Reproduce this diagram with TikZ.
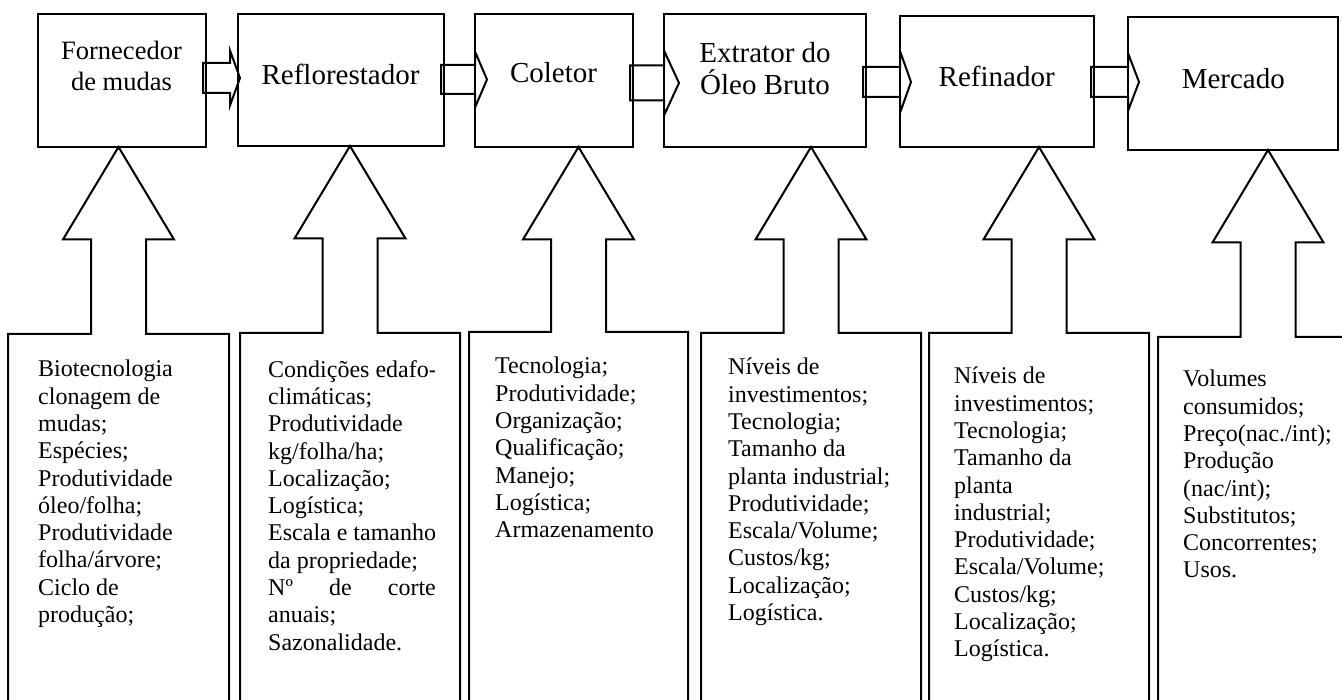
\documentclass[tikz,border=0pt]{standalone}
\usepackage{fontspec}
\setmainfont{Liberation Serif}
\usetikzlibrary{calc}

\tikzset{
  outline/.style={draw=black, line width=2pt, line join=miter},
  stage/.style={outline, inner sep=0pt, outer sep=0pt, anchor=north west},
  stagetext/.style={anchor=north, align=center, inner sep=0pt, text=black,
                    font=\fontsize{29}{32}\selectfont},
  factors/.style={inner sep=0pt, outer sep=0pt, anchor=north west,
                  minimum width=220pt, minimum height=400pt},
  factortext/.style={anchor=north west, align=left, inner sep=0pt, text=black,
                     font=\fontsize{24}{27.3}\selectfont},
}

% block arrow between two stages:
% #1 from, #2 to, #3 axis y, #4 shaft half-height, #5 head half-height,
% #6 head base shift from target edge, #7 tip shift from target edge
\newcommand\flowarrow[7]{%
  \coordinate (fa-s) at (#1.east |- 0,#3);
  \coordinate (fa-e) at (#2.west |- 0,#3);
  \draw[outline] ($(fa-s)+(-3,-#4)$) -- ($(fa-e)+(#6,-#4)$) -- ($(fa-e)+(#6,-#5)$)
    -- ($(fa-e)+(#7,0)$) -- ($(fa-e)+(#6,#5)$) -- ($(fa-e)+(#6,#4)$)
    -- ($(fa-s)+(-3,#4)$) -- cycle;
}

% factor box with an upward arrow pointing at its stage:
% #1 factor box, #2 stage box
\newcommand\upcallout[2]{%
  \coordinate (uc-t) at (#1.north |- #2.south);
  \draw[outline] (#1.south west) -- (#1.north west) -- ($(#1.north)+(-27.5,0)$)
    -- ($(uc-t)+(-27.5,92.5)$) -- ($(uc-t)+(-55.5,92.5)$) -- (uc-t)
    -- ($(uc-t)+(55.5,92.5)$) -- ($(uc-t)+(27.5,92.5)$) -- ($(#1.north)+(27.5,0)$)
    -- (#1.north east) -- (#1.south east);
}

\begin{document}
\begin{tikzpicture}[x=1pt,y=-1pt]
\path[use as bounding box] (0,0) rectangle (1342,700);
\clip (0,0) rectangle (1342,700);
\fill[white] (0,0) rectangle (1342,700);

% chain stages
\node[stage, minimum width=168pt, minimum height=133pt] (b1) at (38,14) {};
\node[stage, minimum width=206pt, minimum height=132pt] (b2) at (238,14) {};
\node[stage, minimum width=158pt, minimum height=133pt] (b3) at (475,14) {};
\node[stage, minimum width=202pt, minimum height=133pt] (b4) at (664,14) {};
\node[stage, minimum width=194pt, minimum height=131pt] (b5) at (900,16) {};
\node[stage, minimum width=210pt, minimum height=133pt] (b6) at (1128,17) {};

\node[stagetext, font=\fontsize{26.5}{30.5}\selectfont] (s1) at (121.5,41) {Fornecedor\\de mudas};
\node[stagetext] (s2) at (340.5,63.5) {Reflorestador};
\node[stagetext] (s3) at (553.5,62.5) {Coletor};
\node[stagetext] (s4) at (765,42.5) {Extrator do\\Óleo Bruto};
\node[stagetext] (s5) at (996.7,65.5) {Refinador};
\node[stagetext] (s6) at (1233.3,68) {Mercado};

% flows between stages
\flowarrow{b1}{b2}{78}{15}{27.5}{-8}{2}
\flowarrow{b2}{b3}{79.5}{14.5}{28}{0}{12}
\flowarrow{b3}{b4}{83}{17.5}{32.5}{0}{15}
\flowarrow{b4}{b5}{82}{15}{31}{0}{11}
\flowarrow{b5}{b6}{82}{15}{29}{0}{11}

% factor boxes
\node[factors, minimum width=221pt] (i1) at (8,334) {};
\node[factors] (i2) at (240,333) {};
\node[factors, minimum width=219pt] (i3) at (469,332) {};
\node[factors] (i4) at (701,333) {};
\node[factors] (i5) at (929,333) {};
\node[factors] (i6) at (1158,337) {};

\upcallout{i1}{b1}
\upcallout{i2}{b2}
\upcallout{i3}{b3}
\upcallout{i4}{b4}
\upcallout{i5}{b5}
\upcallout{i6}{b6}

\node[factortext] (f1) at (38,360) {Biotecnologia\\clonagem de\\mudas;\\Espécies;\\Produtividade\\óleo/folha;\\Produtividade\\folha/árvore;\\Ciclo de\\produção;};

\begin{scope}
  \clip (i2.north west) rectangle ($(i2.south east)+(-25.5,0)$);
  \node[factortext] (f2) at (268,360) {Condições edafo-\\climáticas;\\Produtividade\\kg/folha/ha;\\Localização;\\Logística;\\Escala e tamanho\\da propriedade;\\\makebox[177pt][s]{Nº de cortes}\\anuais;\\Sazonalidade.};
\end{scope}

\node[factortext] (f3) at (495,357) {Tecnologia;\\Produtividade;\\Organização;\\Qualificação;\\Manejo;\\Logística;\\Armazenamento};

\node[factortext] (f4) at (728,358) {Níveis de\\investimentos;\\Tecnologia;\\Tamanho da\\planta industrial;\\Produtividade;\\Escala/Volume;\\Custos/kg;\\Localização;\\Logística.};

\node[factortext] (f5) at (954,367) {Níveis de\\investimentos;\\Tecnologia;\\Tamanho da\\planta\\industrial;\\Produtividade;\\Escala/Volume;\\Custos/kg;\\Localização;\\Logística.};

\node[factortext] (f6) at (1183,370) {Volumes\\consumidos;\\Preço(nac./int);\\Produção\\(nac/int);\\Substitutos;\\Concorrentes;\\Usos.};
\end{tikzpicture}
\end{document}
